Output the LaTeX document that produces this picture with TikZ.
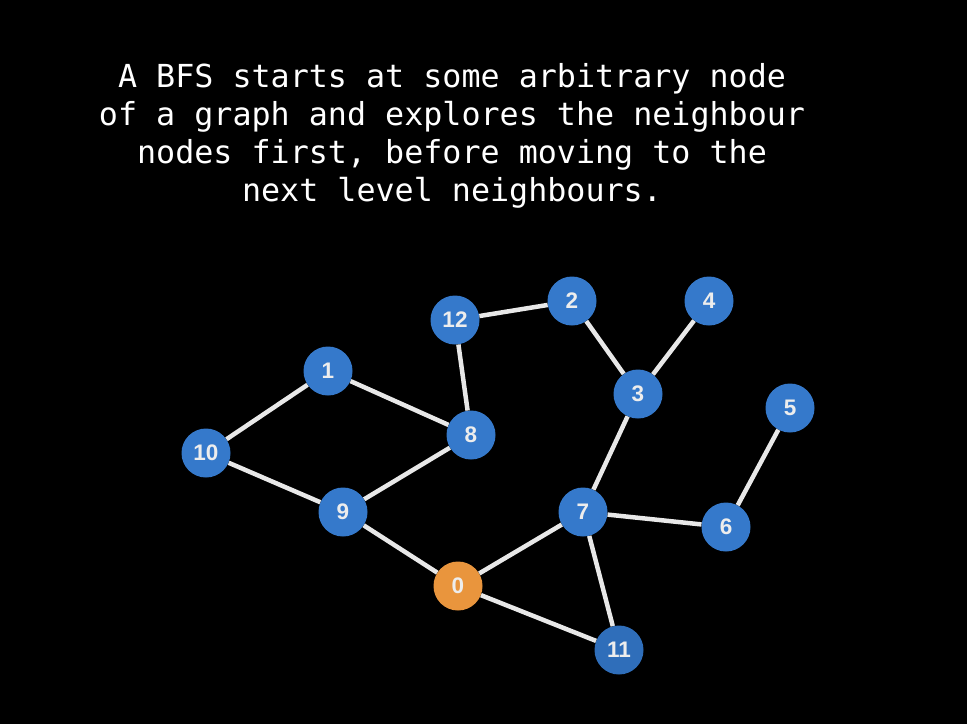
\documentclass[tikz,border=0pt]{standalone}
\usepackage{fontspec}
\setmainfont{Liberation Sans}
\newfontfamily\monofont{DejaVu Sans Mono}
\definecolor{nblue}{HTML}{3579CB}
\definecolor{nblued}{HTML}{2F6EBA}
\definecolor{norange}{HTML}{E9953D}
\definecolor{edgec}{HTML}{E8E8E8}
\definecolor{labc}{HTML}{EDEDED}
\begin{document}
\begin{tikzpicture}[x=1pt,y=-1pt,
  vert/.style={circle,fill=nblue,minimum size=49pt,inner sep=0pt,text=labc,font=\bfseries\fontsize{22.5}{22.5}\selectfont},
  edge/.style={draw=edgec,line width=4.5pt},
  caption/.style={text=white,anchor=base,inner sep=0pt,font=\monofont\fontsize{31.7}{38}\selectfont}]
\fill[black] (0,0) rectangle (967,724);
\useasboundingbox (0,0) rectangle (967,724);
\node[caption] (t1) at (452,87) {A BFS starts at some arbitrary node};
\node[caption] (t2) at (452,125) {of a graph and explores the neighbour};
\node[caption] (t3) at (452,163) {nodes first, before moving to the};
\node[caption] (t4) at (452,201) {next level neighbours.};
\node[vert] (n12) at (455,320) {12};
\node[vert] (n2) at (572,301) {2};
\node[vert] (n4) at (709,301) {4};
\node[vert] (n1) at (328,371) {1};
\node[vert] (n3) at (638,394) {3};
\node[vert] (n5) at (790,408) {5};
\node[vert] (n8) at (471,435) {8};
\node[vert] (n10) at (206,453) {10};
\node[vert] (n9) at (343,512) {9};
\node[vert] (n7) at (583,512) {7};
\node[vert] (n6) at (726,527) {6};
\node[vert,fill=norange] (n0) at (458,586) {0};
\node[vert,fill=nblued] (n11) at (619,650) {11};
\path[edge] (n12) -- (n2) (n12) -- (n8) (n2) -- (n3) (n4) -- (n3) (n3) -- (n7)
  (n1) -- (n10) (n1) -- (n8) (n10) -- (n9) (n9) -- (n8) (n9) -- (n0)
  (n0) -- (n7) (n0) -- (n11) (n7) -- (n11) (n7) -- (n6) (n6) -- (n5);
\end{tikzpicture}
\end{document}
